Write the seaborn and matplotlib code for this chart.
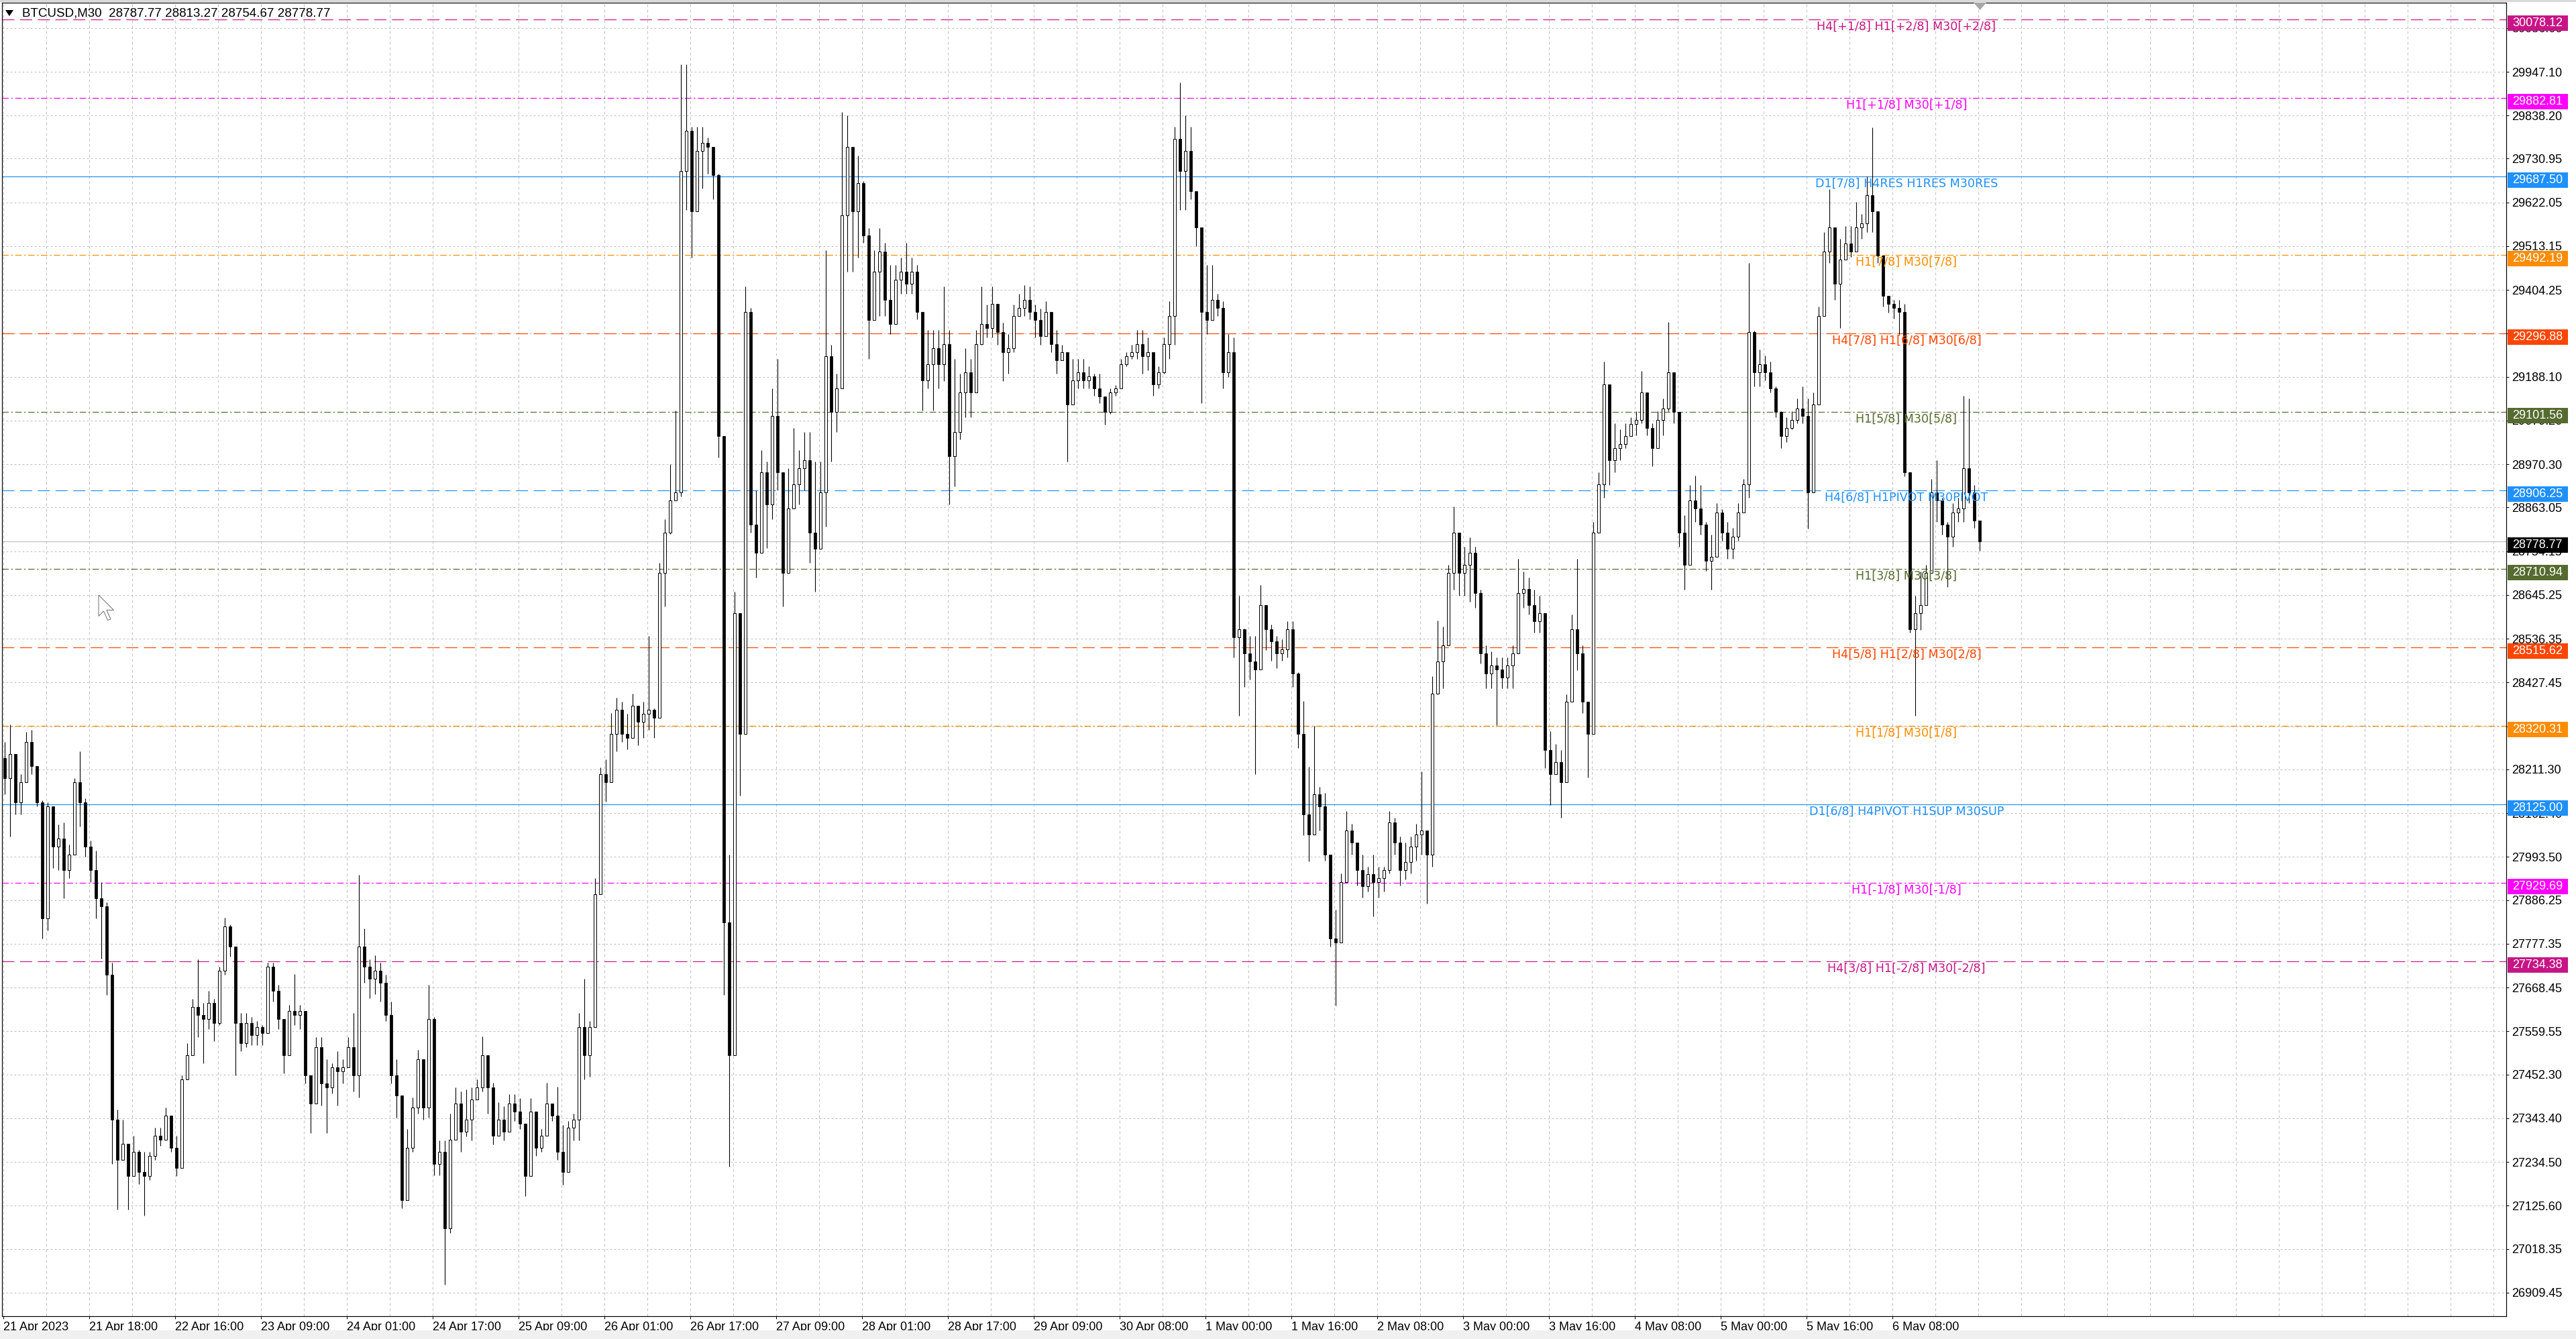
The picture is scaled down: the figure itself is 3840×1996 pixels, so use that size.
import numpy as np
import pandas as pd
import matplotlib
matplotlib.use("Agg")
import matplotlib.pyplot as plt
import matplotlib.transforms as mtransforms
from matplotlib.patches import Rectangle, Polygon
import seaborn as sns

# --- data: hourly candles (one value per hour) ---
header_text = "BTCUSD,M30  28787.77 28813.27 28754.67 28778.77"
first_open = 28240.0

closes = [
    28190, 28250, 28130, 28180, 28280, 28220, 28130, 27840, 28120, 28020,
    28040, 27960, 28000, 28180, 28130, 28020, 27960, 27890, 27870, 27700,
    27340, 27240, 27280, 27200, 27260, 27210, 27200, 27250, 27300, 27290,
    27350, 27270, 27220, 27440, 27500, 27620, 27600, 27590, 27630, 27580,
    27710, 27820, 27770, 27580, 27530, 27580, 27550, 27570, 27555, 27720,
    27660, 27590, 27500, 27610, 27600, 27610, 27450, 27380, 27520, 27430,
    27420, 27470, 27460, 27470, 27520, 27450, 27770, 27720, 27690, 27710,
    27680, 27600, 27450, 27400, 27140, 27270, 27370, 27490, 27370, 27590,
    27230, 27260, 27070, 27290, 27380, 27310, 27340, 27390, 27420, 27500,
    27420, 27300, 27340, 27310, 27380, 27360, 27330, 27200, 27360, 27270,
    27300, 27380, 27350, 27260, 27210, 27320, 27340, 27570, 27500, 27570,
    27900, 28200, 28180, 28300, 28360, 28300, 28290, 28370, 28330, 28350,
    28360, 28340, 28700, 28800, 28880, 28900, 29700, 29800, 29600, 29750,
    29770, 29760, 29690, 29040, 27830, 27500, 28600, 28300, 29350, 28820,
    28750, 28950, 28870, 29090, 28950, 28700, 28860, 28920, 28960, 28980,
    28800, 28760, 28900, 29240, 29100, 29160, 29590, 29760, 29600, 29670,
    29540, 29330, 29450, 29500, 29380, 29320, 29430, 29450, 29420, 29450,
    29350, 29180, 29220, 29260, 29220, 29270, 28990, 29050, 29150, 29200,
    29150, 29270, 29320, 29310, 29370, 29300, 29250, 29260, 29340, 29360,
    29380, 29350, 29330, 29290, 29350, 29270, 29230, 29250, 29120, 29180,
    29200, 29180, 29190, 29160, 29140, 29100, 29150, 29160, 29220, 29240,
    29250, 29270, 29240, 29250, 29170, 29200, 29270, 29340, 29780, 29700,
    29750, 29650, 29560, 29350, 29330, 29380, 29360, 29200, 29250, 28540,
    28560, 28500, 28480, 28460, 28620, 28560, 28530, 28500, 28510, 28560,
    28450, 28300, 28100, 28050, 28150, 28120, 28000, 27790, 27780, 27930,
    28060, 28030, 27960, 27920, 27950, 27930, 27940, 27960, 28080, 28030,
    27960, 27980, 28020, 28050, 28060, 28000, 28400, 28480, 28520, 28700,
    28800, 28700, 28720, 28750, 28650, 28500, 28450, 28470, 28460, 28440,
    28470, 28500, 28650, 28660, 28620, 28580, 28600, 28260, 28200, 28230,
    28180, 28380, 28560, 28500, 28380, 28300, 28800, 28920, 29170, 28980,
    29010, 29020, 29040, 29070, 29080, 29150, 29060, 29010, 29080, 29110,
    29200, 29100, 28800, 28720, 28880, 28860, 28820, 28730, 28740, 28850,
    28800, 28760, 28790, 28850, 28920, 29300, 29200, 29220, 29200, 29160,
    29100, 29040, 29060, 29080, 29110, 29090, 28900, 29120, 29340, 29500,
    29560, 29420, 29480, 29520, 29500, 29560, 29570, 29640, 29600, 29490,
    29390, 29370, 29360, 29350, 28950, 28560, 28600, 28620, 28700, 28900,
    28880, 28820, 28790, 28850, 28860, 28960, 28900, 28830, 28778.77,
]

highs = [
    28280, 28323, 28240, 28200, 28305, 28310, 28220, 28135, 28130, 28110,
    28075, 28080, 28025, 28190, 28256, 28140, 28035, 28010, 27930, 27880,
    27730, 27365, 27340, 27270, 27300, 27265, 27260, 27260, 27320, 27320,
    27370, 27320, 27300, 27450, 27530, 27640, 27738, 27630, 27660, 27640,
    27720, 27842, 27825, 27630, 27605, 27605, 27595, 27585, 27575, 27730,
    27730, 27676, 27565, 27625, 27702, 27625, 27610, 27440, 27545, 27545,
    27490, 27480, 27510, 27490, 27545, 27605, 27949, 27815, 27738, 27748,
    27730, 27700, 27633, 27490, 27355, 27317, 27395, 27513, 27460, 27676,
    27595, 27288, 27288, 27355, 27420, 27410, 27415, 27420, 27440, 27547,
    27480, 27432, 27384, 27374, 27403, 27403, 27393, 27317, 27393, 27298,
    27317, 27432, 27374, 27422, 27326, 27336, 27355, 27605, 27690, 27585,
    27940, 28217, 28237, 28352, 28390, 28380, 28350, 28400, 28363, 28380,
    28544, 28363, 28725, 28834, 28970, 29105, 29965, 29965, 29811, 29811,
    29811, 29784, 29757, 29693, 29040, 28000, 28653, 28600, 29413, 29360,
    28906, 29005, 28978, 29160, 29232, 28942, 28960, 29060, 29005, 29050,
    29050, 28978, 28978, 29503, 29268, 29196, 29847, 29838, 29757, 29739,
    29675, 29558, 29503, 29558, 29521, 29467, 29467, 29485, 29521, 29485,
    29467, 29331, 29304, 29304, 29304, 29413, 29304, 29232, 29196, 29259,
    29232, 29304, 29413, 29368, 29413, 29368, 29322, 29295, 29368, 29395,
    29416, 29413, 29368, 29358, 29377, 29340, 29304, 29268, 29232, 29232,
    29232, 29232, 29214, 29196, 29196, 29123, 29160, 29168, 29232, 29250,
    29268, 29304, 29304, 29286, 29232, 29214, 29286, 29377, 29811, 29920,
    29838, 29811, 29640, 29413, 29467, 29467, 29395, 29377, 29295, 29286,
    28644, 28562, 28544, 28544, 28671, 28617, 28571, 28544, 28535, 28580,
    28580, 28454, 28381, 28218, 28320, 28168, 28153, 27999, 27862, 27953,
    28107, 28076, 28030, 27999, 27969, 27999, 27969, 27969, 28107, 28091,
    28045, 28030, 28045, 28076, 28206, 28060, 28443, 28582, 28567, 28720,
    28866, 28796, 28766, 28789, 28766, 28659, 28520, 28505, 28490, 28490,
    28490, 28520, 28735, 28704, 28689, 28659, 28643, 28536, 28306, 28275,
    28260, 28398, 28597, 28735, 28520, 28367, 28827, 28950, 29226, 29088,
    29073, 29057, 29073, 29088, 29103, 29203, 29149, 29073, 29103, 29134,
    29325, 29180, 29073, 28843, 28919, 28942, 28919, 28827, 28796, 28873,
    28858, 28827, 28812, 28873, 28934, 29471, 29302, 29256, 29241, 29226,
    29164, 29103, 29088, 29103, 29134, 29164, 29134, 29149, 29363, 29548,
    29655, 29548, 29532, 29563, 29563, 29624, 29594, 29686, 29808, 29563,
    29471, 29387, 29379, 29379, 29370, 28935, 28643, 28704, 28720, 28934,
    28980, 28888, 28827, 28873, 28888, 29141, 29134, 28919, 28813.27,
]

lows = [
    28150, 28045, 28100, 28100, 28180, 28200, 28120, 27790, 27810, 27965,
    27960, 27890, 27940, 28000, 28070, 27995, 27930, 27840, 27740, 27650,
    27230, 27116, 27240, 27116, 27210, 27180, 27101, 27190, 27240, 27275,
    27290, 27260, 27200, 27270, 27440, 27520, 27545, 27480, 27565, 27535,
    27575, 27700, 27745, 27450, 27510, 27520, 27525, 27525, 27525, 27555,
    27633, 27565, 27455, 27518, 27575, 27565, 27430, 27307, 27430, 27375,
    27307, 27405, 27375, 27430, 27470, 27410, 27395, 27680, 27642, 27652,
    27633, 27585, 27430, 27345, 27120, 27140, 27260, 27355, 27340, 27345,
    27202, 27202, 26929, 27058, 27298, 27260, 27298, 27288, 27395, 27410,
    27355, 27278, 27317, 27288, 27317, 27336, 27317, 27150, 27260, 27250,
    27260, 27307, 27336, 27240, 27178, 27260, 27288, 27288, 27440, 27446,
    27575, 27940, 28131, 28217, 28256, 28280, 28262, 28290, 28272, 28290,
    28309, 28290, 28345, 28617, 28797, 28906, 28890, 29603, 29485, 29648,
    29657, 29693, 29630, 28988, 27650, 27223, 28092, 28146, 28345, 28800,
    28689, 28762, 28762, 28834, 28906, 28617, 28743, 28870, 28870, 28906,
    28725, 28653, 28834, 28816, 28978, 29051, 29178, 29449, 29449, 29485,
    29521, 29232, 29340, 29340, 29340, 29295, 29377, 29395, 29395, 29395,
    29331, 29105, 29160, 29105, 29160, 29178, 28870, 28915, 29033, 29087,
    29087, 29160, 29268, 29286, 29286, 29268, 29178, 29196, 29250, 29340,
    29340, 29331, 29286, 29268, 29304, 29250, 29196, 29232, 28978, 29123,
    29160, 29160, 29160, 29141, 29123, 29069, 29096, 29141, 29178, 29214,
    29232, 29232, 29196, 29205, 29141, 29160, 29196, 29232, 29268, 29603,
    29603, 29630, 29513, 29123, 29295, 29340, 29340, 29160, 29187, 28490,
    28345, 28417, 28435, 28200, 28490, 28508, 28481, 28463, 28481, 28490,
    28417, 28264, 28047, 27983, 28076, 28060, 27984, 27770, 27624, 27846,
    27938, 27999, 27923, 27892, 27907, 27846, 27892, 27907, 27953, 27999,
    27923, 27938, 27953, 27984, 27999, 27877, 27969, 28398, 28413, 28551,
    28659, 28643, 28643, 28628, 28613, 28475, 28413, 28413, 28321, 28413,
    28413, 28413, 28520, 28613, 28597, 28551, 28551, 28214, 28122, 28199,
    28091, 28214, 28398, 28459, 28352, 28191, 28306, 28812, 28888, 28919,
    28950, 28980, 29011, 29057, 29042, 29073, 29042, 28965, 29011, 29042,
    29103, 29073, 28766, 28659, 28766, 28827, 28796, 28705, 28659, 28796,
    28781, 28735, 28735, 28781, 28858, 28888, 29164, 29164, 29180, 29149,
    29088, 29011, 29026, 29057, 29073, 29073, 28811, 28934, 29149, 29363,
    29471, 29379, 29310, 29486, 29486, 29502, 29532, 29548, 29548, 29471,
    29363, 29348, 29333, 29295, 28940, 28551, 28345, 28559, 28659, 28704,
    28827, 28796, 28666, 28766, 28827, 28827, 28873, 28812, 28754.67,
]

# Murrey math levels drawn by the indicator
level_prices = [30078.12, 29882.81, 29687.50, 29492.19, 29296.88, 29101.56, 28906.25,
                28710.94, 28515.62, 28320.31, 28125.00, 27929.69, 27734.38]
level_names = [
    "H4[+1/8] H1[+2/8] M30[+2/8]",
    "H1[+1/8] M30[+1/8]",
    "D1[7/8] H4RES H1RES M30RES",
    "H1[7/8] M30[7/8]",
    "H4[7/8] H1[6/8] M30[6/8]",
    "H1[5/8] M30[5/8]",
    "H4[6/8] H1PIVOT M30PIVOT",
    "H1[3/8] M30[3/8]",
    "H4[5/8] H1[2/8] M30[2/8]",
    "H1[1/8] M30[1/8]",
    "D1[6/8] H4PIVOT H1SUP M30SUP",
    "H1[-1/8] M30[-1/8]",
    "H4[3/8] H1[-2/8] M30[-2/8]",
]
level_colors = ["#C71585", "#FF00FF", "#1E90FF", "#FF8C00", "#FF4500", "#556B2F", "#1E90FF",
                "#556B2F", "#FF4500", "#FF8C00", "#1E90FF", "#FF00FF", "#C71585"]
level_styles = ["dash", "dashdot", "solid", "dashdot", "dash", "dashdot", "dash",
                "dashdot", "dash", "dashdot", "solid", "dashdot", "dash"]
bid_price = 28778.77

ytick_values = [30056.00, 29947.10, 29838.20, 29730.95, 29622.05, 29513.15, 29404.25,
                29295.35, 29188.10, 29079.20, 28970.30, 28863.05, 28754.15, 28645.25,
                28536.35, 28427.45, 28318.55, 28211.30, 28102.40, 27993.50, 27886.25,
                27777.35, 27668.45, 27559.55, 27452.30, 27343.40, 27234.50, 27125.60,
                27018.35, 26909.45]
xtick_labels = ["21 Apr 2023", "21 Apr 18:00", "22 Apr 16:00", "23 Apr 09:00", "24 Apr 01:00",
                "24 Apr 17:00", "25 Apr 09:00", "26 Apr 01:00", "26 Apr 17:00", "27 Apr 09:00",
                "28 Apr 01:00", "28 Apr 17:00", "29 Apr 09:00", "30 Apr 08:00", "1 May 00:00",
                "1 May 16:00", "2 May 08:00", "3 May 00:00", "3 May 16:00", "4 May 08:00",
                "5 May 00:00", "5 May 16:00", "6 May 08:00"]
xtick_bars = [32 * k for k in range(len(xtick_labels))]

# --- figure geometry (pixels of the 3840x1996 screenshot) ---
W, H, DPI = 3840, 1996, 100
PX = 72 / DPI
AX_L, AX_R, AX_T, AX_B = 3, 3736, 4, 1962
X_MIN, X_MAX = (AX_L - 5) / 4, (AX_R - 5) / 4        # M30 bar units, 4 px per bar
PPX = 0.5991                                          # px per price unit
Y_MAX = 29947.10 + (107 - AX_T) / PPX
Y_MIN = 29947.10 - (AX_B - 107) / PPX
AXW = AX_R - AX_L

sns.set_theme(style="white")
plt.rcParams["font.family"] = ["DejaVu Sans"]
AXIS_FONT = ["Liberation Sans", "DejaVu Sans"]

fig = plt.figure(figsize=(W / DPI, H / DPI), dpi=DPI, facecolor="white")
fig.patches.append(Rectangle((0, 0), 1, 13 / H, transform=fig.transFigure,
                             facecolor="#F0F0F0", edgecolor="none", zorder=0))
fig.patches.append(Rectangle((0, 1 - 3 / H), 1, 3 / H, transform=fig.transFigure,
                             facecolor="#D8D8D8", edgecolor="none", zorder=0))
ax = fig.add_axes([AX_L / W, 1 - AX_B / H, AXW / W, (AX_B - AX_T) / H])
ax.set_facecolor("white")
ax.set_xlim(X_MIN, X_MAX)
ax.set_ylim(Y_MIN, Y_MAX)

# --- grid ---
for yv in ytick_values:
    ax.axhline(yv, color="#C0C0C0", lw=PX, dashes=(3, 3), zorder=1)
for xv in range(0, int(X_MAX) + 1, 16):
    ax.axvline(xv, color="#C0C0C0", lw=PX, dashes=(4, 4), zorder=1)

# --- candles ---
df = pd.DataFrame({"high": highs, "low": lows, "close": closes})
df["open"] = [first_open] + closes[:-1]
df["high"] = df[["high", "open", "close"]].max(axis=1)
df["low"] = df[["low", "open", "close"]].min(axis=1)
df["x"] = 2 * np.arange(len(df)) + 0.5
df["bottom"] = df[["open", "close"]].min(axis=1)
df["body"] = (df["close"] - df["open"]).abs().clip(lower=2.0)
bull = df["close"] >= df["open"]

ax.vlines(df["x"], df["low"], df["high"], color="black", lw=1.1 * PX, zorder=3)
ax.bar(df.loc[bull, "x"], df.loc[bull, "body"], bottom=df.loc[bull, "bottom"], width=1.2,
       color="white", edgecolor="black", linewidth=PX, zorder=4)
ax.bar(df.loc[~bull, "x"], df.loc[~bull, "body"], bottom=df.loc[~bull, "bottom"], width=1.2,
       color="black", edgecolor="black", linewidth=0.8 * PX, zorder=4)

# --- Murrey levels, labels ---
style_map = {"dash": (15, 7), "dashdot": (8, 3, 2, 3)}
label_x = (2842 - 5) / 4
for price, name, col, sty in zip(level_prices, level_names, level_colors, level_styles):
    if sty == "solid":
        ax.axhline(price, color=col, lw=1.2 * PX, zorder=2)
    else:
        ax.axhline(price, color=col, lw=1.2 * PX, dashes=style_map[sty], zorder=2)
    ax.text(label_x, price - 11.5 / PPX, name, color=col, fontsize=12.6,
            ha="center", va="center", zorder=6)
ax.axhline(bid_price, color="#C0C0C0", lw=1.2 * PX, zorder=2)

# --- axes, ticks ---
for sp in ax.spines.values():
    sp.set_color("black")
    sp.set_linewidth(1.2 * PX)
ax.yaxis.tick_right()
ax.set_yticks(ytick_values)
ax.set_yticklabels([f"{v:.2f}" for v in ytick_values], fontsize=13, family=AXIS_FONT)
ax.set_xticks(xtick_bars)
ax.set_xticklabels(xtick_labels, fontsize=13, family=AXIS_FONT, ha="left")
ax.tick_params(axis="y", which="major", right=True, left=False, length=3, width=PX,
               pad=3, colors="black")
ax.tick_params(axis="x", which="major", bottom=True, length=3, width=PX, pad=3, colors="black")
ax.set_xlabel("")
ax.set_ylabel("")

# --- price boxes on the price scale (box sits a little below its line, like MT4) ---
blend = mtransforms.blended_transform_factory(ax.transAxes, ax.transData)
box_x0 = (3738 - AX_L) / AXW
box_w = 90 / AXW
text_x = (3745 - AX_L) / AXW
box_prices = level_prices + [bid_price]
box_colors = level_colors + ["#000000"]
for price, col in zip(box_prices, box_colors):
    ax.add_patch(Rectangle((box_x0, price - 17 / PPX), box_w, 22.5 / PPX, transform=blend,
                           facecolor=col, edgecolor="none", clip_on=False, zorder=10))
    ax.text(text_x, price - 5.75 / PPX, f"{price:.2f}", transform=blend, color="white",
            fontsize=13, family=AXIS_FONT, ha="left", va="center", clip_on=False, zorder=11)

# --- header, shift marker, cursor ---
def fpx(x, y):
    return (x / W, 1 - y / H)

fig.patches.append(Polygon([fpx(8, 15), fpx(20, 15), fpx(14, 24)], closed=True,
                           transform=fig.transFigure, facecolor="black", edgecolor="none",
                           zorder=20))
fig.text(33 / W, 1 - 20 / H, header_text, fontsize=13.5, family=AXIS_FONT,
         ha="left", va="center", color="black", zorder=20)
fig.patches.append(Polygon([fpx(2942, 4), fpx(2961, 4), fpx(2951.5, 15)], closed=True,
                           transform=fig.transFigure, facecolor="#A8A8A8", edgecolor="none",
                           zorder=20))
cursor = [(0, 0), (0, 21), (5, 16), (9, 25), (12, 24), (8, 15), (15, 15)]
fig.patches.append(Polygon([fpx(147 + 1.5 * cx, 887 + 1.5 * cy) for cx, cy in cursor],
                           closed=True, transform=fig.transFigure, facecolor="white",
                           edgecolor="#707070", linewidth=PX, zorder=20))

fig.savefig("out.png", dpi=DPI, facecolor="white")
